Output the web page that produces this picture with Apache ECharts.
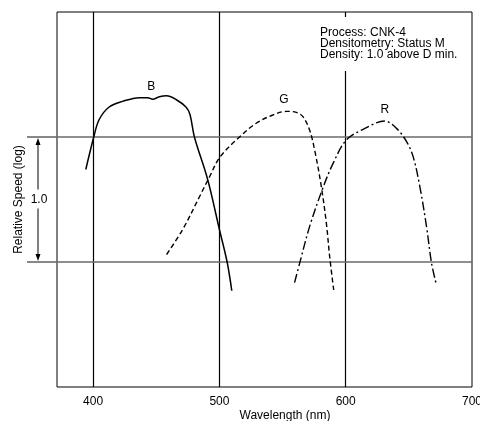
<!DOCTYPE html>
<html><head><meta charset="utf-8">
<script src="https://cdn.jsdelivr.net/npm/echarts@6/dist/echarts.min.js"></script>
<style>html,body{margin:0;padding:0;background:#fff;overflow:hidden}#c{width:480px;height:421px}</style>
</head><body><div id="c"></div>
<script>
// Blue-sensitive layer (solid)
const bWave  = [394.2, 400.5, 404.8, 412.7, 423.3, 436.5, 443.1, 447.1, 452.4, 458.2, 465.6, 473.5, 476.7, 480.2, 490.7, 500.0, 506.1, 509.8];
const bSpeed = [0.74, 1.00, 1.14, 1.24, 1.285, 1.315, 1.315, 1.302, 1.322, 1.33, 1.30, 1.24, 1.18, 1.00, 0.66, 0.26, 0.00, -0.23];
// Green-sensitive layer (dashed)
const gWave  = [458.2, 470.9, 484.1, 492.1, 500.5, 515.9, 529.1, 542.3, 552.9, 560.9, 566.1, 571.4, 575.4, 580.7, 584.7, 587.3, 590.5];
const gSpeed = [0.06, 0.26, 0.52, 0.68, 0.84, 1.00, 1.11, 1.176, 1.205, 1.197, 1.163, 1.056, 0.896, 0.603, 0.309, 0.043, -0.224];
// Red-sensitive layer (dash-dot)
const rWave  = [559.5, 563.5, 571.4, 581.5, 590.0, 600.5, 613.7, 630.9, 640.2, 648.2, 653.4, 658.7, 664.0, 668.0, 671.4];
const rSpeed = [-0.165, -0.011, 0.283, 0.581, 0.789, 0.976, 1.061, 1.128, 1.069, 0.963, 0.843, 0.603, 0.283, -0.011, -0.165];

const xTicks = [400, 500, 600, 700];
const refWaves = [400, 500, 600];
const refSpeeds = [0, 1];
const curveNames = ['B', 'G', 'R'];
const labelWave  = [446, 551, 631];
const labelSpeed = [1.40, 1.296, 1.216];
const noteLines = ['Process: CNK-4', 'Densitometry: Status M', 'Density: 1.0 above D min.'];
const xName = 'Wavelength (nm)';
const yName = 'Relative Speed (log)';

const FONT = '"Liberation Sans", Arial, Helvetica, sans-serif';
const zip = (a, b) => a.map((v, i) => [v, b[i]]);

const chart = echarts.init(document.getElementById('c'), null, {renderer: 'canvas'});
const option = {
  animation: false,
  backgroundColor: '#fff',
  textStyle: {fontFamily: FONT, color: '#000'},
  grid: {left: 57, right: 8, top: 12, bottom: 34, outerBoundsMode: 'none', containLabel: false,
         show: true, borderColor: '#000', borderWidth: 1, backgroundColor: 'transparent'},
  xAxis: {
    type: 'value', min: 371.4, max: 700,
    axisLine: {show: false}, axisTick: {show: false}, splitLine: {show: false},
    axisLabel: {customValues: xTicks, fontSize: 12, color: '#000', margin: 9, fontFamily: FONT}
  },
  yAxis: {
    type: 'value', min: -1, max: 2,
    axisLine: {show: false}, axisTick: {show: false}, splitLine: {show: false}, axisLabel: {show: false},
    name: yName, nameLocation: 'middle', nameGap: 32,
    nameTextStyle: {fontSize: 12, color: '#000', fontFamily: FONT}
  },
  series: [
    {
      type: 'line', data: zip(bWave, bSpeed), smooth: 0.35, showSymbol: false,
      lineStyle: {color: '#000', width: 1.5}, z: 5,
      markLine: {
        silent: true, symbol: 'none', label: {show: false},
        data: refWaves.map(v => ({xAxis: v, lineStyle: {color: '#000', width: 1.2, type: 'solid'}}))
          .concat(refSpeeds.map(v => ({yAxis: v, lineStyle: {color: '#6a6a6a', width: 1.6, type: 'solid'}})))
      }
    },
    {
      type: 'line', data: zip(gWave, gSpeed), smooth: 0.35, showSymbol: false,
      lineStyle: {color: '#000', width: 1.4, type: [5, 3]}, z: 5
    },
    {
      type: 'line', data: zip(rWave, rSpeed), smooth: 0.35, showSymbol: false,
      lineStyle: {color: '#000', width: 1.4, type: [9, 3, 2, 3]}, z: 5
    }
  ]
};
chart.setOption(option);

const px = (x, y) => chart.convertToPixel({gridIndex: 0}, [x, y]);
const gridLeft = px(371.4, 0)[0];
const y0 = px(400, refSpeeds[0])[1];
const y1 = px(400, refSpeeds[1])[1];
const ym = (y0 + y1) / 2;
const ax = 38;
const graphics = [];
// extend the reference lines to the left of the frame
refSpeeds.forEach(v => {
  const y = px(400, v)[1];
  graphics.push({type: 'line', shape: {x1: 27, y1: y, x2: gridLeft, y2: y}, style: {stroke: '#6a6a6a', lineWidth: 1.6}});
});
// double arrow
graphics.push({type: 'line', shape: {x1: ax, y1: y1 + 6, x2: ax, y2: ym - 10}, style: {stroke: '#000', lineWidth: 1}});
graphics.push({type: 'line', shape: {x1: ax, y1: ym + 9, x2: ax, y2: y0 - 6}, style: {stroke: '#000', lineWidth: 1}});
graphics.push({type: 'polygon', shape: {points: [[ax, y1 + 1], [ax - 2.5, y1 + 8], [ax + 2.5, y1 + 8]]}, style: {fill: '#000'}});
graphics.push({type: 'polygon', shape: {points: [[ax, y0 - 1], [ax - 2.5, y0 - 8], [ax + 2.5, y0 - 8]]}, style: {fill: '#000'}});
graphics.push({type: 'text', x: ax + 1, y: ym, style: {text: '1.0', font: '12px ' + FONT, fill: '#000', align: 'center', verticalAlign: 'middle'}});
// curve labels
curveNames.forEach((n, i) => {
  const p = px(labelWave[i], labelSpeed[i]);
  graphics.push({type: 'text', x: p[0], y: p[1], style: {text: n, font: '12px ' + FONT, fill: '#000', align: 'center', verticalAlign: 'middle'}, z: 10});
});
// note box
graphics.push({type: 'rect', shape: {x: 314, y: 17, width: 156, height: 54}, style: {fill: '#fff'}, z: 8});
noteLines.forEach((t, i) => {
  graphics.push({type: 'text', x: 320, y: 33 + i * 11, style: {text: t, font: '12px ' + FONT, fill: '#000', align: 'left', verticalAlign: 'middle'}, z: 9});
});
// x axis name
graphics.push({type: 'text', x: 285, y: 416, style: {text: xName, font: '12px ' + FONT, fill: '#000', align: 'center', verticalAlign: 'middle'}});
chart.setOption({graphic: graphics});
</script>
</body></html>
